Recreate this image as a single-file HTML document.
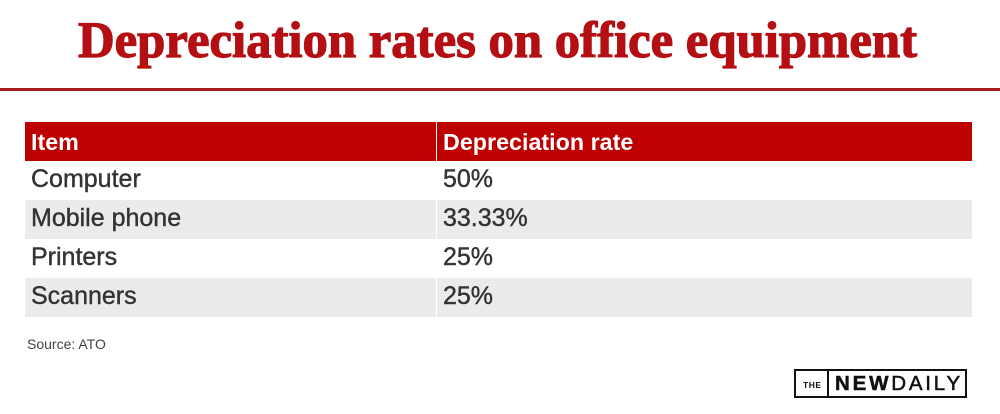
<!DOCTYPE html>
<html>
<head>
<meta charset="utf-8">
<style>
  html, body { margin:0; padding:0; background:#fff; }
  body { width:1000px; height:414px; position:relative; overflow:hidden; font-family:"Liberation Sans", Arial, sans-serif; }
  .abs { position:absolute; }
  .rule { left:0; top:88px; width:1000px; height:3px; background:#a31a1a; }
  .row { position:absolute; left:25px; width:947px; height:39px; }
  .cell { position:absolute; top:0; height:39px; }
  .c1 { left:0; width:411px; }
  .c2 { left:412px; width:535px; }
  .hdr .cell { background:#bd0000; }
  .gray .cell { background:#ebebeb; }
  .txt { position:absolute; white-space:nowrap; }
  .hdr .txt { color:#fff; font-weight:bold; font-size:23.3px; top:7px; }
  .body .txt { color:#333; font-size:25px; top:4px; -webkit-text-stroke:0.4px #333; }
  .t1 { left:6px; }
  .t2 { left:418px; }
  .src { left:27px; top:336px; font-size:14px; color:#444; }
  .logo { left:794px; top:369px; width:169px; height:25px; border:2px solid #111; }
  .div { left:31px; top:0; width:2px; height:25px; background:#111; }
  .the { left:7px; top:9px; font-size:8.5px; font-weight:bold; color:#111; letter-spacing:0.5px; }
  .nd { left:39px; top:1px; font-size:20.5px; color:#111; letter-spacing:2.8px; -webkit-text-stroke:0.5px #111; }
</style>
</head>
<body>
<svg class="abs" style="left:0;top:0" width="1000" height="88">
  <text x="78" y="57" font-family="Liberation Serif, serif" font-weight="bold" font-size="51" fill="#b40f12" stroke="#b40f12" stroke-width="1.2" textLength="839" lengthAdjust="spacingAndGlyphs">Depreciation rates on office equipment</text>
</svg>
<div class="abs rule"></div>

<div class="row hdr" style="top:122px;">
  <div class="cell c1"></div><div class="cell c2"></div>
  <div class="txt t1">Item</div><div class="txt t2">Depreciation rate</div>
</div>
<div class="row body" style="top:161px;">
  <div class="txt t1">Computer</div><div class="txt t2">50%</div>
</div>
<div class="row body gray" style="top:200px;">
  <div class="cell c1"></div><div class="cell c2"></div>
  <div class="txt t1">Mobile phone</div><div class="txt t2">33.33%</div>
</div>
<div class="row body" style="top:239px;">
  <div class="txt t1">Printers</div><div class="txt t2">25%</div>
</div>
<div class="row body gray" style="top:278px;">
  <div class="cell c1"></div><div class="cell c2"></div>
  <div class="txt t1">Scanners</div><div class="txt t2">25%</div>
</div>

<div class="abs src">Source: ATO</div>

<div class="abs logo">
  <div class="abs div"></div>
  <div class="abs the">THE</div>
  <div class="abs nd"><b>NEW</b>DAILY</div>
</div>
</body>
</html>
